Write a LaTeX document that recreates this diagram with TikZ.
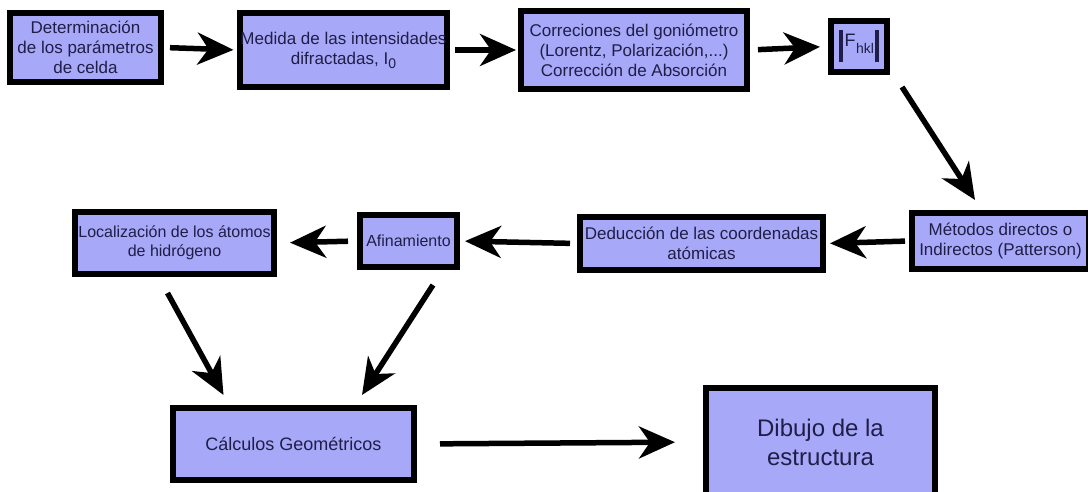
\documentclass[tikz,border=0pt]{standalone}
\usepackage{fontspec}
\setmainfont{Liberation Sans}
\usetikzlibrary{arrows.meta}
\definecolor{boxfill}{RGB}{168,168,248}
\definecolor{txt}{RGB}{30,30,72}
\tikzset{
  box/.style={draw=black, line width=6pt, fill=boxfill, text=txt, align=center,
    inner sep=0pt, font=\fontsize{17}{20}\selectfont},
  arr/.style={line width=5.5pt, draw=black, -{Stealth[length=36pt,width=32pt,inset=11pt]}},
}
\begin{document}
\begin{tikzpicture}[x=1pt,y=-1pt]
\useasboundingbox (0,0) rectangle (1088,492);
\begin{scope}
\clip (0,0) rectangle (1088,492);
\fill[white] (0,0) rectangle (1088,492);
% top row
\node[box, minimum width=151pt, minimum height=69pt] (b1) at (85.5,47.5)
  {Determinación\\de los parámetros\\de celda};
\node[box, minimum width=203pt, minimum height=74pt] (b2) at (343.5,50)
  {Medida de las intensidades\\difractadas, I\raisebox{-4pt}{\fontsize{14}{14}\selectfont 0}};
\node[box, minimum width=226pt, minimum height=78pt] (b3) at (634,50)
  {Correciones del goniómetro\\(Lorentz, Polarización,...)\\Corrección de Absorción};
\node[box, minimum width=56pt, minimum height=51pt] (b4) at (859,46.5)
  {\vrule width 4pt height 16pt depth 16pt\kern2pt{\fontsize{18}{18}\selectfont F}\kern0.5pt\raisebox{-7pt}{\fontsize{14}{14}\selectfont hkl}\kern1.5pt\vrule width 4pt height 16pt depth 16pt};
% middle row
\node[box, minimum width=177pt, minimum height=56pt] (b5) at (1000.5,241)
  {Métodos directos o\\Indirectos (Patterson)};
\node[box, minimum width=243pt, minimum height=53pt] (b6) at (701.5,243.5)
  {Deducción de las coordenadas\\atómicas};
\node[box, minimum width=97pt, minimum height=52pt, font=\fontsize{16}{19}\selectfont] (b7) at (408.5,241)
  {Afinamiento};
\node[box, minimum width=199pt, minimum height=62pt, font=\fontsize{16}{19}\selectfont] (b8) at (174.5,243)
  {Localización de los átomos\\de hidrógeno};
% bottom row
\node[box, minimum width=241pt, minimum height=72pt, font=\fontsize{18}{21}\selectfont] (b9) at (293.5,444)
  {Cálculos Geométricos};
\node[box, minimum width=229pt, minimum height=108pt, font=\fontsize{24}{29}\selectfont] (b10) at (820.5,442)
  {Dibujo de la\\estructura};
% arrows
\draw[arr, shorten <=6pt, shorten >=4pt] (b1.east) -- (b2.west);
\draw[arr, shorten <=5pt, shorten >=2pt] (b2.east) -- (b3.west);
\draw[arr, shorten <=8pt, shorten >=8pt] (b3.east) -- (b4.west);
\draw[arr] ([shift={(12,12)}]b4.south east) -- ([shift={(66,-10)}]b5.north west);
\draw[arr, shorten <=4pt, shorten >=4pt] (b5.west) -- (b6.east);
\draw[arr, shorten <=7pt, shorten >=5pt] (b6.west) -- (b7.east);
\draw[arr, shorten <=9pt, shorten >=13pt] (b7.west) -- (b8.east);
\draw[arr] ([shift={(-7,16)}]b8.south) -- ([shift={(-70,-10)}]b9.north);
\draw[arr] ([shift={(24.5,15)}]b7.south) -- ([shift={(68.5,-10)}]b9.north);
\draw[arr, shorten <=23pt, shorten >=28pt] (b9.east) -- (b10.west);
\end{scope}
\end{tikzpicture}
\end{document}
